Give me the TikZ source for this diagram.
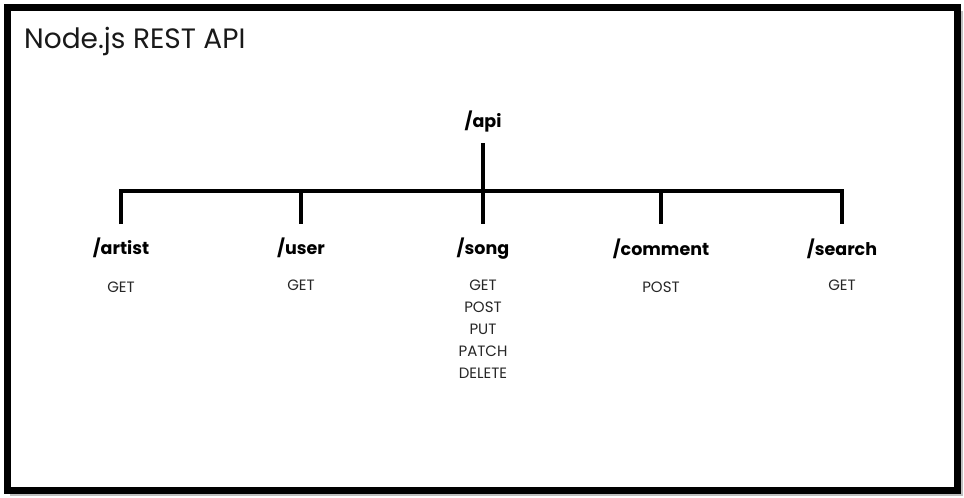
\documentclass[tikz,border=0pt]{standalone}
\usepackage{fontspec}
\setmainfont{Poppins}
\begin{document}
\begin{tikzpicture}[x=1pt,y=-1pt,
  route/.style={font=\fontsize{17.5}{20}\selectfont\bfseries, inner sep=0pt, anchor=base},
  meth/.style={font=\fontsize{15}{22}\selectfont, inner sep=0pt, anchor=north, align=center, text=black!85},
  tree/.style={line width=4pt}]
\useasboundingbox (0,0) rectangle (964,498);
\fill[black!25] (10,11) rectangle (963,496);
\fill[white] (7,7.5) rectangle (957,490);
\draw[line width=7pt] (7,7.5) rectangle (957,490);
\node[inner sep=0pt, anchor=base west, font=\fontsize{28}{30}\selectfont, text=black!90] (title) at (24,48) {Node.js REST API};
\node[route] (api) at (483,127) {/api};
\node[route] (artist) at (121,254) {/artist};
\node[route] (user) at (301,254) {/user};
\node[route] (song) at (483,254) {/song};
\node[route] (comment) at (661,255) {/comment};
\node[route] (search) at (842,255) {/search};
\coordinate (top) at (483,143);
\coordinate (hub) at (483,191);
\foreach \n in {artist,user,song,comment,search}{
  \coordinate (d\n) at (\n.center |- 0,224);
  \coordinate (h\n) at (\n.center |- hub);
}
\draw[tree] (top) -- (dsong);
\draw[tree] (dartist) -- (hartist) -- (hsearch) -- (dsearch);
\draw[tree] (huser) -- (duser);
\draw[tree] (hcomment) -- (dcomment);
\node[meth] (m1) at (121,282) {GET};
\node[meth] (m2) at (301,280) {GET};
\node[meth] (m3) at (483,280) {GET\\POST\\PUT\\PATCH\\DELETE};
\node[meth] (m4) at (661,282) {POST};
\node[meth] (m5) at (842,280) {GET};
\end{tikzpicture}
\end{document}
